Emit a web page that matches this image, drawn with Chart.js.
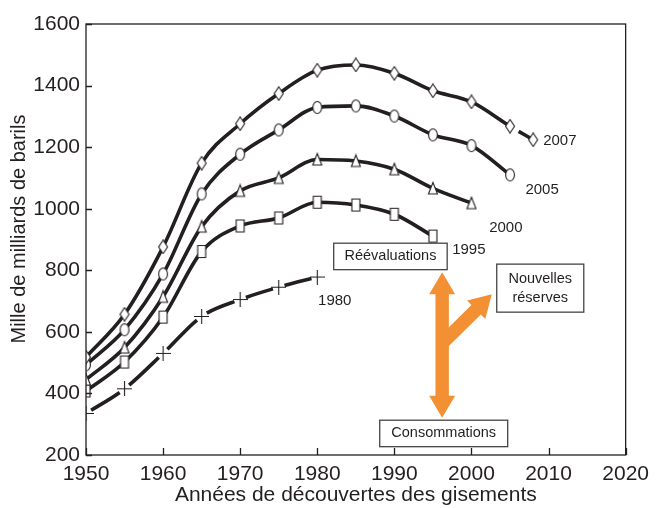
<!DOCTYPE html>
<html>
<head>
<meta charset="utf-8">
<script src="https://cdn.jsdelivr.net/npm/chart.js@4"></script>
<style>
  html, body { margin: 0; padding: 0; background: #fff; }
  #wrap { width: 656px; height: 508px; }
</style>
</head>
<body>
<div id="wrap"><canvas id="chart" width="656" height="508"></canvas></div>
<script>
// Données
const years = [1950, 1955, 1960, 1965, 1970, 1975, 1980, 1985, 1990, 1995, 2000, 2005, 2008];
const res2007 = [518, 657, 876, 1148, 1276, 1374, 1450, 1467, 1440, 1383, 1347, 1268, 1224];
const res2005 = [493, 607, 788, 1048, 1177, 1256, 1329, 1334, 1301, 1240, 1205, 1110];
const res2000 = [445, 549, 714, 942, 1058, 1100, 1160, 1155, 1128, 1066, 1018];
const res1995 = [408, 502, 648, 861, 944, 970, 1021, 1012, 982, 911];
const res1980 = [335, 415, 530, 650, 705, 745, 778];
const seriesNames = ['2007', '2005', '2000', '1995', '1980'];
const xTicks = [1950, 1960, 1970, 1980, 1990, 2000, 2010, 2020];
const yTicks = [200, 400, 600, 800, 1000, 1200, 1400, 1600];

const INK = '#231f20';
const ORANGE = '#f39033';
const FONT = '"Liberation Sans", Arial, sans-serif';

// petits marqueurs dessinés à la main (un peu étirés en hauteur comme l'original)
function marker(kind) {
  const c = document.createElement('canvas');
  const w = kind === 'plus' ? 15 : 12, h = 15;
  c.width = w; c.height = h;
  const g = c.getContext('2d');
  g.strokeStyle = INK; g.fillStyle = '#fff'; g.lineWidth = 1.1;
  const cx = w / 2, cy = h / 2;
  g.beginPath();
  if (kind === 'diamond') {
    g.moveTo(cx, 0.8); g.lineTo(w - 1.5, cy); g.lineTo(cx, h - 0.8); g.lineTo(1.5, cy); g.closePath();
  } else if (kind === 'circle') {
    g.ellipse(cx, cy, 4.4, 6, 0, 0, Math.PI * 2);
  } else if (kind === 'triangle') {
    g.moveTo(cx, 1.5); g.lineTo(w - 1.5, h - 2); g.lineTo(1.5, h - 2); g.closePath();
  } else if (kind === 'square') {
    g.rect(2, 1.5, w - 4, h - 3);
  } else {
    g.moveTo(cx, 0); g.lineTo(cx, h); g.moveTo(0, cy); g.lineTo(w, cy);
    g.stroke();
    return c;
  }
  g.fill(); g.stroke();
  return c;
}

function toXY(vals) {
  return vals.map((v, i) => ({ x: years[i], y: v }));
}

function segLen(ctx) {
  return Math.hypot(ctx.p1.x - ctx.p0.x, ctx.p1.y - ctx.p0.y);
}

const base = {
  borderColor: INK,
  borderWidth: 3.6,
  cubicInterpolationMode: 'monotone',
  pointRadius: 6,
  pointHoverRadius: 6,
  fill: false
};

const datasets = [
  Object.assign({}, base, {
    label: seriesNames[0], data: toXY(res2007), pointStyle: marker('diamond'),
    segment: {
      borderDash: ctx => ctx.p1DataIndex === res2007.length - 1 ? [0, 10, 100, 0] : undefined
    }
  }),
  Object.assign({}, base, { label: seriesNames[1], data: toXY(res2005), pointStyle: marker('circle') }),
  Object.assign({}, base, { label: seriesNames[2], data: toXY(res2000), pointStyle: marker('triangle') }),
  Object.assign({}, base, { label: seriesNames[3], data: toXY(res1995), pointStyle: marker('square') }),
  Object.assign({}, base, {
    label: seriesNames[4], data: toXY(res1980), pointStyle: marker('plus'),
    segment: {
      borderDash: ctx => { const d = segLen(ctx); return [0, 6, Math.max(d - 12, 1), 50]; }
    }
  })
];

// étiquettes des courbes, en coordonnées de données
const seriesLabels = [
  { text: '2007', x: 2009.3, y: 1221 },
  { text: '2005', x: 2007.0, y: 1061 },
  { text: '2000', x: 2002.3, y: 937 },
  { text: '1995', x: 1997.5, y: 867 },
  { text: '1980', x: 1980.1, y: 702 }
];

const deco = {
  id: 'deco',
  afterDraw(chart) {
    const { ctx, chartArea: a, scales: { x, y } } = chart;
    const X = v => x.getPixelForValue(v), Y = v => y.getPixelForValue(v);
    ctx.save();
    // cadre
    ctx.strokeStyle = INK; ctx.lineWidth = 1.3;
    ctx.strokeRect(a.left, a.top, a.right - a.left, a.bottom - a.top);
    // graduations vers l'intérieur
    ctx.beginPath();
    xTicks.forEach(t => { const px = Math.round(X(t)) + 0.5; ctx.moveTo(px, a.bottom); ctx.lineTo(px, a.bottom - 7); });
    yTicks.forEach(t => { const py = Math.round(Y(t)) + 0.5; ctx.moveTo(a.left, py); ctx.lineTo(a.left + 6, py); });
    ctx.stroke();

    // titre de l'axe vertical
    ctx.fillStyle = INK;
    ctx.save();
    ctx.translate(19, 229);
    ctx.rotate(-Math.PI / 2);
    ctx.font = '20px ' + FONT;
    ctx.textAlign = 'center'; ctx.textBaseline = 'middle';
    ctx.fillText('Mille de milliards de barils', 0, 0);
    ctx.restore();

    // étiquettes des courbes
    ctx.font = '15px ' + FONT;
    ctx.textBaseline = 'middle'; ctx.textAlign = 'left';
    seriesLabels.forEach(l => ctx.fillText(l.text, X(l.x), Y(l.y)));

    // flèches orange
    const cx = X(1996.2);
    const top = Y(794), bot = Y(321);
    const hw = 6.7, hh = 13, hl = 22;
    ctx.fillStyle = ORANGE;
    ctx.beginPath();
    ctx.moveTo(cx, top);
    ctx.lineTo(cx + hh, top + hl);
    ctx.lineTo(cx + hw, top + hl);
    ctx.lineTo(cx + hw, bot - hl);
    ctx.lineTo(cx + hh, bot - hl);
    ctx.lineTo(cx, bot);
    ctx.lineTo(cx - hh, bot - hl);
    ctx.lineTo(cx - hw, bot - hl);
    ctx.lineTo(cx - hw, top + hl);
    ctx.lineTo(cx - hh, top + hl);
    ctx.closePath();
    ctx.fill();
    // branche vers "Nouvelles réserves"
    const sx = cx, sy = Y(563);
    const tx = X(2002.64), ty = Y(722);
    const ang = Math.atan2(ty - sy, tx - sx);
    const len = Math.hypot(tx - sx, ty - sy);
    ctx.save();
    ctx.translate(sx, sy); ctx.rotate(ang);
    ctx.beginPath();
    ctx.moveTo(0, -hw); ctx.lineTo(len - hl, -hw); ctx.lineTo(len - hl, -hh);
    ctx.lineTo(len, 0);
    ctx.lineTo(len - hl, hh); ctx.lineTo(len - hl, hw); ctx.lineTo(0, hw);
    ctx.closePath();
    ctx.fill();
    ctx.restore();

    // boîtes de texte
    ctx.font = '14.5px ' + FONT;
    ctx.textAlign = 'center';
    const box = (lines, x0, y0, x1, y1) => {
      const l = X(x0), r = X(x1), t = Y(y0), b = Y(y1);
      ctx.fillStyle = '#fff';
      ctx.fillRect(l, t, r - l, b - t);
      ctx.strokeStyle = '#444'; ctx.lineWidth = 1.3;
      ctx.strokeRect(l, t, r - l, b - t);
      ctx.fillStyle = INK;
      const mid = (t + b) / 2, lh = 19;
      lines.forEach((s, i) => ctx.fillText(s, (l + r) / 2, mid + (i - (lines.length - 1) / 2) * lh));
    };
    box(['Réévaluations'], 1982.13, 888, 1996.85, 802);
    box(['Nouvelles', 'réserves'], 2003.28, 820, 2014.57, 664);
    box(['Consommations'], 1988.1, 313, 2004.7, 227);
    ctx.restore();
  }
};

new Chart(document.getElementById('chart'), {
  type: 'line',
  data: { datasets },
  options: {
    responsive: false,
    animation: false,
    events: [],
    layout: { padding: { top: 24, right: 26, left: 0, bottom: 0 } },
    plugins: { legend: { display: false }, tooltip: { enabled: false } },
    scales: {
      x: {
        type: 'linear', min: 1950, max: 2020,
        afterFit: s => { s.height = 53; },
        afterBuildTicks: s => { s.ticks = xTicks.map(v => ({ value: v })); },
        grid: { display: false, drawTicks: false },
        border: { display: false },
        ticks: { color: INK, padding: 7, font: { family: FONT, size: 21 }, callback: v => String(v) },
        title: { display: true, text: 'Années de découvertes des gisements', color: INK,
                 font: { family: FONT, size: 21 }, padding: { top: 0, bottom: 0 } }
      },
      y: {
        type: 'linear', min: 200, max: 1600,
        afterFit: s => { s.width = 86; },
        afterBuildTicks: s => { s.ticks = yTicks.map(v => ({ value: v })); },
        grid: { display: false, drawTicks: false },
        border: { display: false },
        ticks: { color: INK, padding: 6, font: { family: FONT, size: 21 }, callback: v => String(v) },
        title: { display: false }
      }
    }
  },
  plugins: [deco]
});
</script>
</body>
</html>
